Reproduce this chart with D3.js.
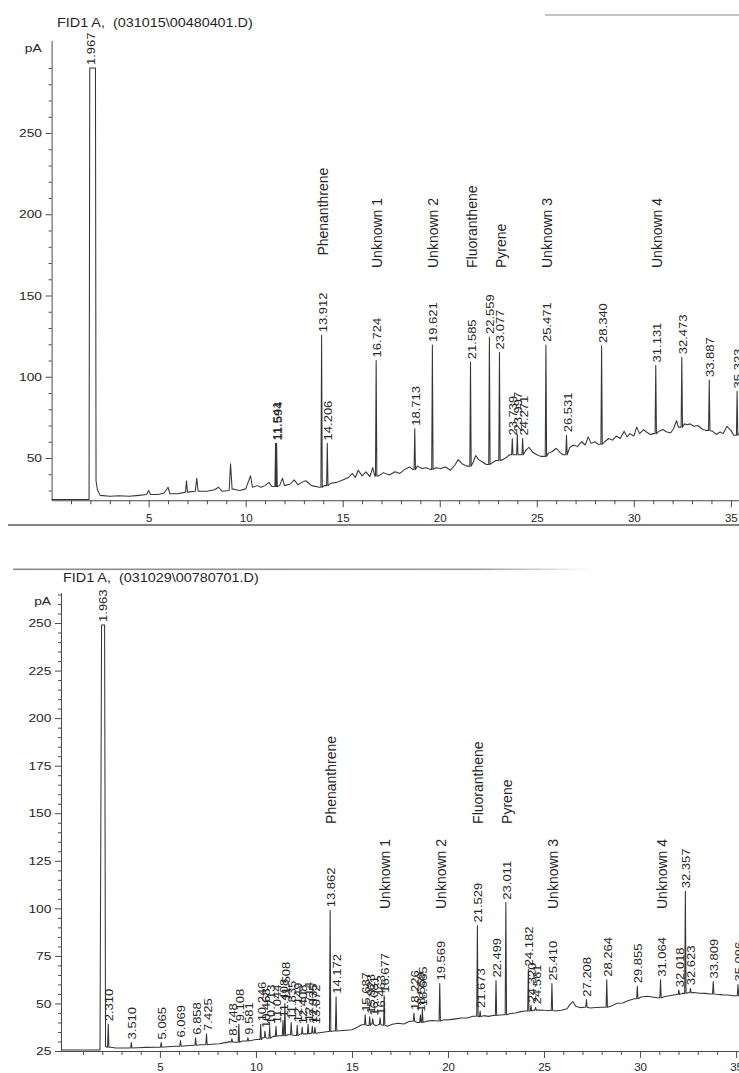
<!DOCTYPE html>
<html>
<head>
<meta charset="utf-8">
<script src="https://cdn.jsdelivr.net/npm/d3@7"></script>
<style>
  body { margin: 0; background: #fff; }
  svg { display: block; }
</style>
</head>
<body>
<div id="chart"></div>
<script>
const title1 = "FID1 A,\u00a0 (031015\\00480401.D)"
const title2 = "FID1 A,\u00a0 (031029\\00780701.D)"

// baseline / noise of run 1 as [min, pA] (solvent peak included)
const trace1 = [
  [0, 24.5], [1.93, 24.5], [1.967, 290], [2.26, 290], [2.29, 36], [2.36, 30.5], [2.5, 27],
  [3.0, 26.5], [3.5, 26.8], [4.0, 26.5], [4.5, 27], [4.9, 27.5], [5.0, 30], [5.1, 27.5],
  [5.5, 27.6], [5.8, 28.5], [6.0, 32], [6.1, 28], [6.5, 28], [6.9, 29], [6.95, 36], [7.0, 29],
  [7.4, 29.5], [7.48, 37.5], [7.55, 29.5], [8.0, 29.5], [8.4, 30.5], [8.6, 32], [8.8, 29.5],
  [9.15, 30], [9.22, 46.5], [9.3, 31], [9.5, 30.5], [9.7, 30], [10.0, 31], [10.25, 39],
  [10.35, 32], [10.6, 33], [10.8, 32], [11.0, 33], [11.2, 35], [11.35, 32.5], [11.75, 33],
  [11.9, 37.5], [12.0, 33], [12.3, 34], [12.5, 36.5], [12.7, 33.5], [12.9, 35], [13.1, 36],
  [13.4, 33], [13.8, 32], [14.05, 33], [14.4, 34.5], [14.7, 35], [15.0, 36.5], [15.3, 38],
  [15.5, 40.5], [15.65, 38], [15.8, 42.5], [16.0, 39], [16.2, 41.5], [16.4, 38.5], [16.55, 44],
  [16.65, 39], [16.85, 39], [17.1, 41], [17.4, 39.5], [17.7, 41.5], [17.95, 40.5], [18.2, 43],
  [18.45, 44.5], [18.6, 43], [18.85, 45], [19.1, 43.5], [19.3, 44], [19.5, 43], [19.8, 44],
  [20.05, 43.5], [20.3, 44.5], [20.55, 42.5], [20.8, 46], [20.95, 49], [21.15, 46.5], [21.4, 45],
  [21.75, 48], [21.85, 51.5], [22.0, 49], [22.2, 47.5], [22.4, 46], [22.7, 47], [22.9, 48.5],
  [23.25, 49], [23.45, 50.5], [23.6, 52], [24.45, 55], [24.6, 56.5], [24.8, 53.5], [25.0, 52],
  [25.2, 51], [25.6, 53], [25.8, 54], [26.0, 56], [26.2, 53.5], [26.35, 52], [26.7, 56.5],
  [26.9, 58], [27.1, 57], [27.3, 60], [27.5, 58], [27.65, 63], [27.8, 59], [28.0, 60],
  [28.15, 58.5], [28.5, 60], [28.7, 62], [28.9, 61], [29.1, 63.5], [29.3, 62], [29.5, 66.5],
  [29.65, 63], [29.8, 65], [30.0, 63.5], [30.15, 69], [30.3, 65], [30.5, 67.5], [30.65, 66],
  [30.85, 64.5], [31.0, 65], [31.3, 66.5], [31.5, 67.5], [31.7, 66], [31.9, 65.5], [32.05, 68],
  [32.2, 73], [32.3, 69], [32.6, 71], [32.75, 70.5], [32.9, 71], [33.1, 69.5], [33.3, 70],
  [33.5, 68], [33.7, 67], [34.05, 66.5], [34.25, 64.5], [34.45, 66], [34.6, 65], [34.8, 69.5],
  [35.0, 67], [35.15, 64], [35.42, 65]
]
// integrated peaks of run 1: [retention time, apex pA]
const peaks1 = [
  [1.967, 290], [11.541, 59], [11.594, 59], [13.912, 125.5], [14.206, 59], [16.724, 110],
  [18.713, 68], [19.621, 119.5], [21.585, 109], [22.559, 124.5], [23.077, 115], [23.739, 62],
  [23.997, 64.5], [24.271, 62], [25.471, 119.5], [26.531, 64], [28.340, 119], [31.131, 107],
  [32.473, 112], [33.887, 98], [35.323, 91]
]
const names1 = [
  ["Phenanthrene", 13.912], ["Unknown 1", 16.724], ["Unknown 2", 19.621], ["Fluoranthene", 21.585],
  ["Pyrene", 23.077], ["Unknown 3", 25.471], ["Unknown 4", 31.131]
]

const trace2 = [
  [-0.15, 25.5], [1.88, 25.5], [1.963, 249], [2.12, 249], [2.17, 27.5], [2.24, 27], [2.45, 27],
  [2.7, 26.6], [3.2, 26.6], [3.8, 26.7], [4.3, 26.9], [4.8, 27], [5.4, 27.2], [5.8, 27.5],
  [6.4, 27.8], [6.7, 28], [7.1, 28.3], [7.7, 28.6], [8.1, 28.8], [8.4, 29.4], [8.6, 29.8],
  [8.9, 29.6], [9.3, 30.3], [9.8, 30.6], [10.0, 31], [10.35, 32], [10.6, 31.7], [10.9, 32.7],
  [11.2, 33], [11.65, 33.5], [12.0, 33.1], [12.3, 33.9], [12.55, 34], [12.85, 34.3], [13.2, 34.5],
  [13.5, 34.9], [13.75, 35.2], [14.0, 35.5], [14.35, 35.6], [14.7, 35.9], [15.0, 36.2],
  [15.3, 37.6], [15.5, 38.8], [15.8, 38.4], [16.0, 39.2], [16.25, 38.2], [16.4, 39],
  [16.58, 38.5], [16.85, 38], [17.1, 39.1], [17.4, 39.6], [17.7, 39.2], [18.0, 40.6], [18.4, 40],
  [18.9, 40.7], [19.2, 41], [19.45, 40.8], [19.75, 41.3], [20.1, 41.5], [20.4, 41.9], [20.7, 42.3],
  [21.0, 42.4], [21.3, 43.3], [21.6, 43], [21.85, 43.6], [22.1, 43.2], [22.35, 43.7], [22.7, 43.9],
  [22.9, 44.1], [23.2, 44.6], [23.5, 45], [23.8, 45.7], [24.0, 46], [24.45, 46.5], [24.75, 46.6],
  [25.0, 46.4], [25.25, 46.3], [25.6, 46], [25.9, 46.4], [26.2, 47.2], [26.35, 49.5], [26.5, 51],
  [26.65, 48.5], [26.9, 47.8], [27.1, 48], [27.4, 47.6], [27.7, 47.9], [28.0, 48], [28.5, 48.6],
  [28.8, 50.1], [29.1, 50.2], [29.4, 51.6], [29.7, 52.5], [30.05, 53.4], [30.4, 53.8],
  [30.7, 53.3], [30.9, 53], [31.3, 53.7], [31.6, 54.2], [31.9, 54.7], [32.2, 55.3], [32.5, 55.6],
  [32.8, 55.8], [33.1, 55.4], [33.4, 55.3], [33.65, 55], [34.0, 54.8], [34.3, 54.5], [34.6, 54.4],
  [34.85, 54], [35.15, 53.8]
]
const peaks2 = [
  [1.963, 249], [2.310, 39], [3.510, 29.5], [5.065, 29.5], [6.069, 30.5], [6.858, 32], [7.425, 34],
  [8.748, 31.5], [9.108, 39], [9.581, 32], [10.246, 39], [10.468, 35.5], [10.713, 37.5],
  [11.044, 38], [11.408, 41], [11.508, 50], [11.835, 40], [12.149, 38.5], [12.408, 37.5],
  [12.714, 39], [12.935, 38], [13.072, 37.5], [13.862, 99], [14.172, 53.5], [15.687, 44],
  [15.923, 43], [16.081, 42], [16.463, 42.5], [16.677, 54], [18.226, 45], [18.559, 44],
  [18.665, 47], [19.569, 60.5], [21.529, 91], [21.673, 46], [22.499, 62], [23.011, 103],
  [24.182, 68], [24.320, 49], [24.561, 48], [25.410, 60.5], [27.208, 52], [28.264, 62.5],
  [29.855, 59], [31.064, 62.5], [32.018, 57], [32.357, 109], [32.623, 58], [33.809, 61.5],
  [35.096, 60]
]
const names2 = [
  ["Phenanthrene", 13.862], ["Unknown 1", 16.677], ["Unknown 2", 19.569], ["Fluoranthene", 21.529],
  ["Pyrene", 23.011], ["Unknown 3", 25.410], ["Unknown 4", 31.064]
]

const xMajor = [5, 10, 15, 20, 25, 30, 35]
const xMinor = d3.range(1, 36).filter(v => v % 5 !== 0)
const yMajor1 = [50, 100, 150, 200, 250]
const yMinor1 = d3.range(30, 301, 10).filter(v => v % 50 !== 0)
const yMajor2 = [25, 50, 75, 100, 125, 150, 175, 200, 225, 250]
const yMinor2 = d3.range(30, 266, 5).filter(v => v % 25 !== 0)

// ---------------- drawing ----------------
const W = 739, H = 1073
const FONT = "'Liberation Sans', Arial, Helvetica, sans-serif"
const INK = "#262626"
const LINE = "#363636"

const svg = d3.select("#chart").append("svg")
  .attr("width", W).attr("height", H)
  .attr("viewBox", `0 0 ${W} ${H}`)

// scanner edge lines of the photocopy
const grad = svg.append("defs").append("linearGradient").attr("id", "fade")
grad.append("stop").attr("offset", "0%").attr("stop-color", "#8a8a8a")
grad.append("stop").attr("offset", "80%").attr("stop-color", "#9a9a9a")
grad.append("stop").attr("offset", "100%").attr("stop-color", "#fff")
svg.append("line").attr("x1", 545).attr("x2", W).attr("y1", 15).attr("y2", 15)
  .attr("stroke", "#b0b0b0").attr("stroke-width", 1.5)
svg.append("line").attr("x1", 8).attr("x2", W).attr("y1", 525).attr("y2", 525)
  .attr("stroke", "#5a5a5a").attr("stroke-width", 1.6)
svg.append("rect").attr("x", 13).attr("y", 568.5).attr("width", 580).attr("height", 1.6)
  .attr("fill", "url(#fade)")

function buildTrace(trace, peaks, hw) {
  const pts = trace.slice()
  const bis = d3.bisector(d => d[0]).right
  peaks.forEach(([t, top]) => {
    if (trace.some(p => p[0] === t)) return // already drawn in trace (solvent)
    const base = trace[Math.max(bis(trace, t) - 1, 0)][1]
    pts.push([t - hw, base], [t, top], [t + hw, base])
  })
  return pts.sort((a, b) => a[0] - b[0])
}

function drawRun(cfg) {
  const { x, y } = cfg
  const g = svg.append("g")
  const x0 = x.range()[0], yb = y.range()[0]

  // title
  g.append("text")
    .attr("transform", `translate(${cfg.titlePos[0]},${cfg.titlePos[1]}) scale(1.15,1)`)
    .attr("font-family", FONT).attr("font-size", 12.5).attr("fill", INK)
    .text(cfg.title)

  // y axis
  const yMin = g.append("g").attr("transform", `translate(${x0},0)`)
    .call(d3.axisLeft(y).tickValues(cfg.yMinor).tickSize(3).tickFormat(""))
  yMin.select(".domain").remove()
  const yAx = g.append("g").attr("transform", `translate(${x0},0)`)
    .call(d3.axisLeft(y).tickValues(cfg.yMajor).tickSize(6).tickSizeOuter(0))
  yAx.selectAll("text")
    .attr("x", -8).attr("transform", "scale(1.2,1)")
    .attr("font-family", FONT).attr("font-size", 11.5).attr("fill", INK)
  g.append("text")
    .attr("transform", `translate(${x0 - 10},${y.range()[1] + 12}) scale(1.2,1)`)
    .attr("text-anchor", "end")
    .attr("font-family", FONT).attr("font-size", 11.5).attr("fill", INK)
    .text("pA")

  // x axis
  const xMin = g.append("g").attr("transform", `translate(0,${yb})`)
    .call(d3.axisBottom(x).tickValues(xMinor).tickSize(4).tickFormat(""))
  xMin.select(".domain").remove()
  const xAx = g.append("g").attr("transform", `translate(0,${yb})`)
    .call(d3.axisBottom(x).tickValues(xMajor).tickSize(7).tickSizeOuter(0).tickPadding(cfg.xPad))
  xAx.selectAll("text")
    .attr("font-family", FONT).attr("font-size", 11.5).attr("fill", INK)
  g.selectAll(".domain, .tick line").attr("stroke", "#4a4a4a")

  // signal
  const pts = buildTrace(cfg.trace, cfg.peaks, 0.035)
  g.append("path").datum(pts)
    .attr("fill", "none").attr("stroke", LINE).attr("stroke-width", 1.05)
    .attr("stroke-linejoin", "round")
    .attr("d", d3.line().x(d => x(d[0])).y(d => y(d[1])))

  // retention time labels
  const lab = g.append("g").attr("font-family", FONT).attr("font-size", 10).attr("fill", INK)
  const labTop = new Map()
  cfg.peaks.forEach(([t, top]) => {
    const py = y(top) - 3
    const tx = lab.append("text")
      .attr("transform", `translate(${x(t)},${py}) rotate(-90) scale(1.3,1)`)
      .attr("dy", "0.5em")
      .text(t.toFixed(3))
    labTop.set(t, py - tx.node().getComputedTextLength() * 1.3)
  })

  // compound names: sit on a common level; names clearly pushed up by their
  // retention label share the highest of those pushed positions
  const raw = cfg.names.map(([, t]) => labTop.get(t) - 37)
  const isPushed = b => b < cfg.nameLevel - 12
  const pushed = raw.filter(isPushed)
  const pushLevel = pushed.length ? d3.min(pushed) : cfg.nameLevel
  const nm = g.append("g").attr("font-family", FONT).attr("font-size", 14).attr("fill", INK)
  cfg.names.forEach(([name, t], i) => {
    const bottom = isPushed(raw[i]) ? pushLevel : cfg.nameLevel
    nm.append("text")
      .attr("transform", `translate(${x(t) + 1},${bottom}) rotate(-90)`)
      .attr("dy", "0.36em")
      .text(name)
  })
}

drawRun({
  title: title1, titlePos: [57, 27],
  x: d3.scaleLinear().domain([0, 35.42]).range([51.6, 739]),
  y: d3.scaleLinear().domain([24, 307]).range([500.25, 40.4]),
  yMajor: yMajor1, yMinor: yMinor1, xPad: 7,
  trace: trace1, peaks: peaks1, names: names1, nameLevel: 268
})

drawRun({
  title: title2, titlePos: [63, 582],
  x: d3.scaleLinear().domain([-0.15, 35.15]).range([61, 739]),
  y: d3.scaleLinear().domain([25, 266]).range([1051, 592.6]),
  yMajor: yMajor2, yMinor: yMinor2, xPad: 5,
  trace: trace2, peaks: peaks2, names: names2, nameLevel: 909
})
</script>
</body>
</html>
